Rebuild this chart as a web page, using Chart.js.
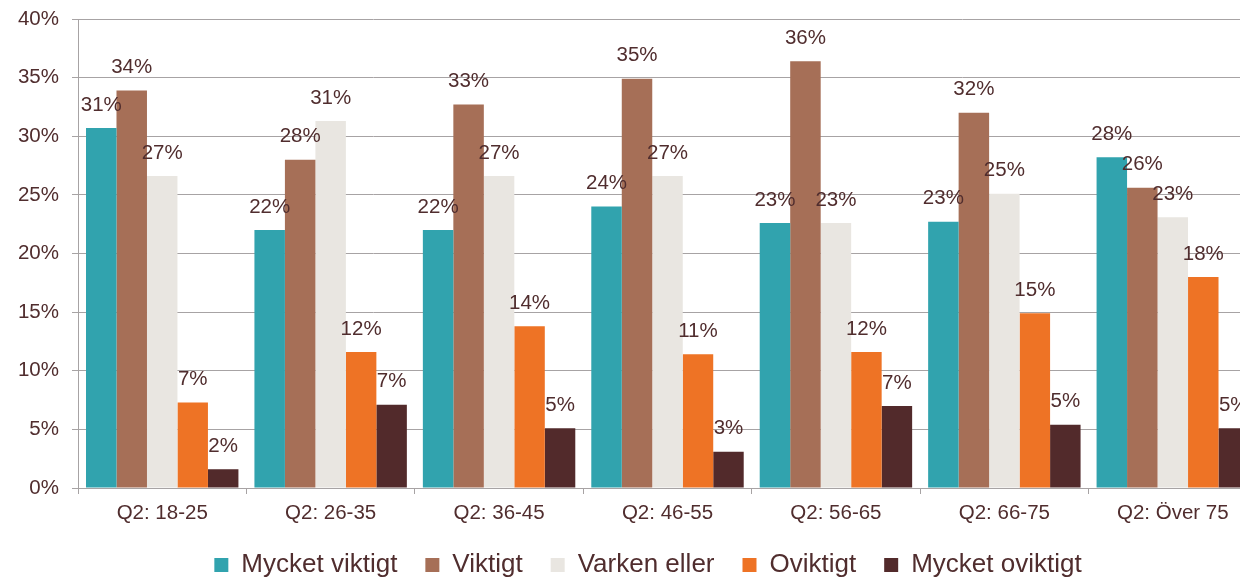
<!DOCTYPE html>
<html lang="sv">
<head>
  <meta charset="UTF-8">
  <title>Viktighet per åldersgrupp</title>
  <script src="https://cdn.jsdelivr.net/npm/chart.js@4.4.1/dist/chart.umd.min.js"></script>
  <style>
    body {
      margin: 0;
      background: #fff;
      overflow: hidden;
    }
    #wrap {
      width: 1296px;
      height: 577px;
    }
  </style>
</head>
<body>
  <div id="wrap">
    <canvas id="chart" width="1296" height="577"></canvas>
  </div>
  <script>
    const categories = ['Q2: 18-25', 'Q2: 26-35', 'Q2: 36-45', 'Q2: 46-55', 'Q2: 56-65', 'Q2: 66-75', 'Q2: Över 75'];
    const mycketViktigt = [30.7, 22.0, 22.0, 24.0, 22.6, 22.7, 28.2];
    const viktigt = [33.9, 28.0, 32.7, 34.9, 36.4, 32.0, 25.6];
    const varkenEller = [26.6, 31.3, 26.6, 26.6, 22.6, 25.1, 23.1];
    const oviktigt = [7.3, 11.6, 13.8, 11.4, 11.6, 14.9, 18.0];
    const mycketOviktigt = [1.6, 7.1, 5.1, 3.1, 7.0, 5.4, 5.1];

    const textColor = '#502D2E';
    const gridColor = '#A7A3A4';
    const fontFamily = '"Liberation Sans", Arial, sans-serif';

    // value labels above every bar
    const valueLabels = {
      id: 'valueLabels',
      afterDatasetsDraw(chart) {
        const ctx = chart.ctx;
        ctx.save();
        ctx.font = '20.5px ' + fontFamily;
        ctx.fillStyle = textColor;
        ctx.textAlign = 'center';
        ctx.textBaseline = 'middle';
        chart.data.datasets.forEach((ds, i) => {
          chart.getDatasetMeta(i).data.forEach((bar, j) => {
            ctx.fillText(Math.round(ds.data[j]) + '%', bar.x, bar.y - 23);
          });
        });
        ctx.restore();
      }
    };

    new Chart(document.getElementById('chart'), {
      type: 'bar',
      data: {
        labels: categories,
        datasets: [
          { label: 'Mycket viktigt', data: mycketViktigt, backgroundColor: '#31A3AE' },
          { label: 'Viktigt', data: viktigt, backgroundColor: '#A66F57' },
          { label: 'Varken eller', data: varkenEller, backgroundColor: '#E9E6E1' },
          { label: 'Oviktigt', data: oviktigt, backgroundColor: '#EE7325' },
          { label: 'Mycket oviktigt', data: mycketOviktigt, backgroundColor: '#522A2B' }
        ]
      },
      options: {
        responsive: false,
        animation: false,
        borderWidth: 0,
        categoryPercentage: 0.905,
        barPercentage: 1.0,
        layout: {
          padding: { top: 19, left: 0, right: 0, bottom: -11 }
        },
        plugins: {
          legend: {
            position: 'bottom',
            labels: {
              boxWidth: 14,
              boxHeight: 14,
              padding: 28,
              color: textColor,
              font: { size: 26, family: fontFamily }
            }
          },
          tooltip: { enabled: false }
        },
        scales: {
          x: {
            afterFit(scale) { scale.height = 36; },
            grid: {
              drawOnChartArea: false,
              drawTicks: true,
              tickLength: 6,
              color: gridColor
            },
            border: { color: gridColor },
            ticks: {
              padding: 7,
              color: textColor,
              font: { size: 20.5, family: fontFamily }
            }
          },
          y: {
            min: 0,
            max: 40,
            afterFit(scale) {
              scale.width = 78;
              scale.paddingTop = 12;
              scale.paddingBottom = 12;
            },
            grid: {
              color: gridColor,
              tickLength: 6
            },
            border: { color: gridColor },
            ticks: {
              stepSize: 5,
              padding: 13,
              color: textColor,
              font: { size: 20.5, family: fontFamily },
              callback: v => v + '%'
            }
          },
          y2: {
            position: 'right',
            grid: { display: false, drawTicks: false },
            border: { display: false },
            ticks: { display: false },
            afterFit(scale) { scale.width = 39; }
          }
        }
      },
      plugins: [valueLabels]
    });
  </script>
</body>
</html>
